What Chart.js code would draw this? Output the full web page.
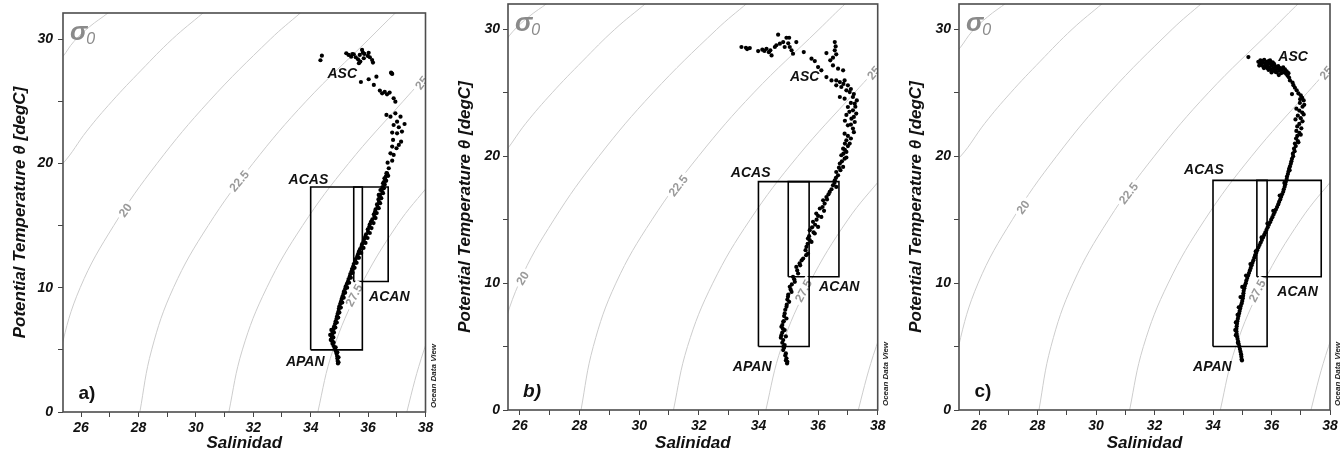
<!DOCTYPE html>
<html>
<head>
<meta charset="utf-8">
<script src="https://cdn.jsdelivr.net/npm/chart.js@4.4.1/dist/chart.umd.min.js"></script>
<style>
  html, body { margin: 0; padding: 0; background: #fff; }
  #wrap { position: relative; width: 1341px; height: 456px; overflow: hidden; }
  #wrap canvas { position: absolute; top: 0; }
</style>
</head>
<body>
<div id="wrap">
  <canvas id="panelA" width="445" height="456" style="left:0px"></canvas>
  <canvas id="panelB" width="445" height="456" style="left:445px"></canvas>
  <canvas id="panelC" width="451" height="456" style="left:890px"></canvas>
</div>
<script>
// axis labels
const salinityTicks = [26, 28, 30, 32, 34, 36, 38];
const tempTicks = [0, 10, 20, 30];

// sigma-0 isopycnals, [salinity, temperature]
const sigma15 = [[24.8, 27.0], [25.37, 28.6], [25.75, 29.8], [26.3, 31.0], [26.94, 32.1], [27.3, 32.8]];
const sigma17_5 = [[24.6, 18.5], [25.37, 20.0], [26.2, 22.6], [27.08, 25.0], [28.1, 27.5], [29.18, 30.0], [30.25, 32.1], [30.6, 32.8]];
const sigma20 = [[24.95, 0], [25.3, 5], [25.97, 10], [27.14, 15], [28.65, 20], [30.46, 25], [32.6, 30], [33.64, 32.1], [34.0, 32.8]];
const sigma22_5 = [[28.0, -1], [28.05, 0], [28.46, 5], [29.22, 10], [30.43, 15], [31.99, 20], [33.84, 25], [36.03, 30], [36.95, 32.1], [37.4, 33]];
const sigma25 = [[31.1, -1], [31.15, 0], [31.62, 5], [32.47, 10], [33.72, 15], [35.32, 20], [37.22, 25], [38.4, 28]];
const sigma27_5 = [[34.2, -1], [34.25, 0], [34.78, 5], [35.71, 10], [37.0, 15], [38.2, 18.5]];
const sigma30 = [[37.3, -1], [37.35, 0], [37.95, 5], [38.5, 8]];
const isopycnals = [sigma15, sigma17_5, sigma20, sigma22_5, sigma25, sigma27_5, sigma30];

// water mass boxes [Smin, Smax, Tmin, Tmax]
const boxesA = [[34.0, 35.8, 5.0, 18.1], [35.5, 36.7, 10.5, 18.1]];
const boxesB = [[34.0, 35.7, 5.0, 18.0], [35.0, 36.7, 10.5, 18.0]];
const boxesC = [[34.0, 35.85, 5.0, 18.1], [35.5, 37.7, 10.5, 18.1]];

// T-S profiles [salinity, temperature]
const tsA = [
  [34.39, 28.67], [34.34, 28.30], [35.24, 28.86], [35.32, 28.73], [35.41, 28.59], [35.50, 28.78], [35.57, 28.54],
  [35.65, 28.38], [35.71, 28.73], [35.79, 29.13], [35.82, 28.91], [35.73, 28.19], [35.68, 28.06], [35.87, 28.81],
  [35.99, 28.65], [36.06, 28.54], [36.14, 28.32], [36.17, 28.11], [35.85, 28.46], [36.02, 28.9], [35.45, 28.8],
  [36.80, 27.30], [36.84, 27.20], [36.82, 27.25],
  [35.75, 26.55], [36.02, 26.77], [36.29, 26.98], [36.20, 26.31], [36.41, 25.86], [36.49, 25.64], [36.66, 25.56],
  [36.75, 25.70], [36.89, 25.24], [36.95, 24.97], [36.58, 25.75],
  [36.64, 23.90], [36.78, 23.76], [36.95, 24.03], [37.13, 23.76], [37.01, 23.36], [36.89, 23.09], [37.27, 23.17],
  [37.07, 22.91], [37.18, 22.56], [37.01, 22.42], [36.84, 22.48], [36.87, 21.89], [37.15, 21.75], [37.07, 21.49],
  [36.99, 21.22], [36.84, 21.35], [36.78, 20.81], [36.89, 20.68], [36.68, 20.06], [36.84, 20.22], [36.72, 19.61],
  [36.64, 19.21], [36.57, 18.80], [36.52, 18.40], [36.43, 17.86], [36.37, 17.46],
  [36.66, 19.2], [36.62, 18.95], [36.6, 18.7], [36.55, 18.5], [36.58, 18.3], [36.5, 18.1], [36.47, 17.9], [36.5, 17.7],
  [36.42, 17.5], [36.4, 17.3], [36.36, 17.1], [36.38, 16.9], [36.31, 16.7], [36.33, 16.5], [36.26, 16.3], [36.24, 16.1],
  [36.2, 15.9], [36.22, 15.7], [36.15, 15.5], [36.1, 15.3], [36.06, 15.1], [36.04, 14.9], [35.99, 14.7], [36.0, 14.5],
  [35.93, 14.3], [35.9, 14.1], [35.86, 13.9], [35.84, 13.7], [35.79, 13.5], [35.77, 13.3], [35.72, 13.1], [35.68, 12.9],
  [35.65, 12.7], [35.62, 12.5], [35.57, 12.3], [35.55, 12.1], [35.5, 11.9], [35.48, 11.7], [35.44, 11.5], [35.42, 11.3],
  [35.38, 11.1], [35.36, 10.9], [35.32, 10.7], [35.3, 10.5], [35.26, 10.3], [35.22, 10.1], [35.2, 9.9], [35.16, 9.7],
  [35.14, 9.5], [35.11, 9.3], [35.08, 9.1], [35.06, 8.9], [35.03, 8.7], [35.0, 8.5], [34.98, 8.3], [34.97, 8.1],
  [34.94, 7.9], [34.92, 7.7], [34.9, 7.5], [34.87, 7.3], [34.85, 7.1], [34.82, 6.9], [34.8, 6.7], [34.77, 6.5],
  [34.75, 6.3], [34.74, 6.1], [34.73, 5.9], [34.75, 5.7], [34.76, 5.5], [34.8, 5.3], [34.84, 5.1], [34.87, 4.9],
  [34.9, 4.7], [34.92, 4.5], [34.93, 4.3], [34.94, 4.1], [34.95, 3.9],
  [36.7, 19.0], [36.63, 18.6], [36.55, 18.0], [36.52, 17.6], [36.46, 17.2], [36.42, 16.8], [36.37, 16.4], [36.3, 16.0],
  [36.26, 15.6], [36.19, 15.2], [36.12, 14.8], [36.06, 14.4], [35.98, 14.0], [35.91, 13.6], [35.84, 13.2], [35.76, 12.8],
  [35.68, 12.4], [35.6, 12.0], [35.53, 11.6], [35.46, 11.2], [35.4, 10.8], [35.34, 10.4], [35.27, 10.0], [35.2, 9.6],
  [35.15, 9.2], [35.1, 8.8], [35.05, 8.4], [35.0, 8.0], [34.96, 7.6], [34.91, 7.2], [34.86, 6.8], [34.81, 6.4],
  [34.79, 6.0], [34.8, 5.6], [34.87, 5.2], [34.93, 4.8], [34.97, 4.4], [34.97, 4.0], [34.68, 6.2], [34.7, 5.8], [34.72, 6.6]
];

const tsB = [
  [33.43, 28.61], [33.58, 28.55], [33.71, 28.53], [33.62, 28.45], [33.99, 28.29], [34.13, 28.4], [34.27, 28.47],
  [34.4, 28.35], [34.44, 27.95], [34.55, 28.61], [34.66, 29.58], [34.72, 28.87], [34.83, 29.0], [34.88, 28.61],
  [34.94, 29.34], [35.03, 29.34], [35.05, 28.61], [35.11, 28.35], [35.16, 28.08], [35.27, 29.0], [35.52, 28.21],
  [34.35, 28.2], [34.6, 28.75], [35.0, 28.9], [34.2, 28.3],
  [36.56, 29.0], [36.59, 28.66], [36.56, 28.35], [36.61, 28.03], [36.5, 27.77], [36.28, 28.13], [36.41, 27.56],
  [35.78, 27.69], [35.89, 27.5], [36.0, 27.03], [36.11, 26.77], [36.5, 27.16], [36.67, 26.9], [36.84, 26.77],
  [36.28, 26.24], [36.45, 25.98], [36.61, 25.98], [36.73, 25.85], [36.89, 25.98], [37.0, 25.59], [36.61, 25.59],
  [36.78, 25.46], [36.95, 25.2], [37.06, 25.06], [36.73, 24.67], [36.89, 24.54], [37.17, 24.67], [37.23, 24.14],
  [37.0, 23.88], [37.17, 23.62], [37.28, 23.36], [36.95, 23.26], [37.12, 22.96], [37.23, 22.7], [37.0, 22.44],
  [37.17, 22.18], [36.89, 21.78], [36.95, 21.26], [37.06, 21.0], [36.84, 20.6], [36.95, 20.34], [36.78, 20.08],
  [36.89, 19.81], [36.73, 19.42], [36.84, 19.16], [36.61, 18.76], [36.67, 18.5], [36.56, 18.1], [36.5, 17.71],
  [36.61, 17.58], [36.39, 17.19], [36.28, 16.79], [36.17, 16.53], [36.22, 16.27], [36.06, 15.88], [35.94, 15.48],
  [36.11, 15.22], [35.83, 14.83], [36.0, 14.43], [35.72, 14.17], [35.89, 13.91], [35.66, 13.51], [35.78, 13.25],
  [35.61, 12.86], [35.66, 12.33], [35.5, 11.94], [35.38, 11.55], [35.27, 11.28], [35.33, 10.76], [35.16, 10.5],
  [35.22, 10.1], [35.05, 9.71], [35.11, 9.31], [34.99, 8.92], [35.03, 8.53], [34.94, 8.13], [34.88, 7.61],
  [34.94, 7.21], [34.83, 6.95], [34.77, 6.56], [34.88, 6.3], [34.77, 5.9], [34.83, 5.51], [34.88, 5.12],
  [34.83, 4.72], [34.92, 4.46], [34.94, 4.07], [34.96, 3.67],
  [37.1, 25.3], [36.85, 25.7], [37.2, 24.9], [37.3, 24.4], [37.1, 24.2], [37.25, 23.9], [37.05, 23.5], [37.2, 23.1],
  [36.9, 22.8], [37.1, 22.5], [37.2, 21.9], [37.0, 21.6], [37.1, 21.4], [36.9, 21.0], [37.0, 20.8], [36.9, 20.5],
  [36.85, 20.2], [36.95, 19.9], [36.8, 19.6], [36.7, 19.1], [36.75, 18.9], [36.6, 18.3], [36.55, 17.9], [36.45, 17.4],
  [36.35, 17.0], [36.3, 16.6], [36.15, 16.0], [36.2, 15.7], [36.0, 15.3], [35.95, 15.0], [35.9, 14.6], [35.8, 14.4],
  [35.85, 14.0], [35.7, 13.7], [35.72, 13.4], [35.65, 13.1], [35.58, 12.6], [35.6, 12.2], [35.45, 11.8], [35.4, 11.4],
  [35.3, 11.0], [35.2, 10.3], [35.12, 9.9], [35.08, 9.5], [35.0, 9.1], [34.97, 8.7], [34.95, 8.3], [34.9, 7.9],
  [34.86, 7.4], [34.85, 7.0], [34.8, 6.7], [34.8, 6.1], [34.75, 5.7], [34.8, 5.3], [34.86, 4.9], [34.9, 4.3],
  [34.92, 3.9], [34.97, 3.8], [34.84, 5.0], [34.92, 5.8], [34.82, 6.4]
];

const tsC = [
  [35.21, 27.82],
  [35.55, 27.45], [35.6, 27.3], [35.62, 27.55], [35.66, 27.2], [35.7, 27.4], [35.72, 27.05], [35.75, 27.6],
  [35.78, 27.3], [35.8, 27.15], [35.83, 27.45], [35.85, 26.95], [35.88, 27.25], [35.9, 27.5], [35.92, 27.0],
  [35.95, 27.35], [35.97, 26.85], [36.0, 27.15], [36.02, 26.7], [36.04, 27.4], [36.06, 26.95], [36.1, 27.2],
  [36.12, 26.8], [36.15, 27.05], [36.18, 26.6], [36.2, 26.9], [36.23, 27.1], [36.26, 26.75], [36.3, 26.95],
  [36.33, 26.55], [36.36, 26.8], [36.4, 27.0], [36.43, 26.6], [36.46, 26.85], [36.5, 26.5], [36.52, 26.7],
  [36.55, 26.35], [36.58, 26.55], [36.6, 26.2], [35.68, 27.5], [35.74, 26.95], [35.9, 26.8], [36.0, 26.6],
  [36.08, 27.3], [35.95, 27.55], [36.25, 26.4], [35.58, 27.15], [35.82, 27.05], [36.14, 26.65],
  [36.63, 25.98], [36.72, 25.8], [36.75, 25.6], [36.8, 25.4], [36.86, 25.2], [36.92, 24.95], [37.0, 24.8],
  [37.05, 24.6], [37.1, 24.4], [36.97, 24.2], [37.12, 24.05], [37.06, 23.9], [36.85, 23.75], [36.95, 23.6],
  [37.05, 23.45], [37.1, 23.3], [36.9, 23.2], [37.0, 23.0], [36.82, 22.9], [37.06, 22.75], [36.95, 22.55],
  [36.88, 22.35], [37.02, 22.2], [36.85, 22.0], [36.95, 21.85], [36.88, 21.6], [36.84, 21.4], [36.9, 21.2],
  [36.8, 21.0], [36.83, 20.8], [36.77, 20.6], [36.79, 20.4], [36.73, 20.2], [36.74, 20.0], [36.7, 19.8],
  [36.68, 19.6], [36.66, 19.4], [36.63, 19.2], [36.6, 19.0], [36.58, 18.8], [36.56, 18.6], [36.53, 18.4],
  [36.52, 18.2], [36.49, 18.0], [36.47, 17.8], [36.45, 17.6], [36.42, 17.4], [36.4, 17.2], [36.36, 17.0],
  [36.33, 16.8], [36.3, 16.6], [36.26, 16.4], [36.23, 16.2], [36.19, 16.0], [36.15, 15.8], [36.11, 15.6],
  [36.07, 15.4], [36.03, 15.2], [35.99, 15.0], [35.95, 14.8], [35.91, 14.6], [35.87, 14.4], [35.83, 14.2],
  [35.79, 14.0], [35.75, 13.8], [35.71, 13.6], [35.67, 13.4], [35.63, 13.2], [35.59, 13.0], [35.55, 12.8],
  [35.51, 12.6], [35.48, 12.4], [35.44, 12.2], [35.41, 12.0], [35.38, 11.8], [35.35, 11.6], [35.32, 11.4],
  [35.29, 11.2], [35.26, 11.0], [35.23, 10.8], [35.2, 10.6], [35.17, 10.4], [35.14, 10.2], [35.12, 10.0],
  [35.09, 9.8], [35.07, 9.6], [35.05, 9.4], [35.04, 9.2], [35.03, 9.0], [35.02, 8.8], [35.0, 8.6], [34.98, 8.4],
  [34.95, 8.2], [34.93, 8.0], [34.91, 7.8], [34.89, 7.6], [34.87, 7.4], [34.85, 7.2], [34.83, 7.0], [34.82, 6.8],
  [34.81, 6.6], [34.8, 6.4], [34.8, 6.2], [34.81, 6.0], [34.82, 5.8], [34.84, 5.6], [34.86, 5.4], [34.88, 5.2],
  [34.9, 5.0], [34.92, 4.8], [34.94, 4.6], [34.96, 4.4], [34.97, 4.2], [34.98, 4.0], [34.99, 3.9],
  [36.7, 24.9], [36.98, 24.5], [37.0, 21.7], [36.92, 21.1], [36.62, 18.9], [36.44, 17.9], [36.28, 16.9],
  [36.06, 15.7], [35.86, 14.7], [35.66, 13.6], [35.46, 12.5], [35.28, 11.5], [35.13, 10.6], [35.0, 9.7],
  [34.94, 8.9], [34.88, 8.1], [34.84, 7.5], [34.78, 6.9], [34.76, 6.3], [34.78, 5.9], [34.85, 5.3]
];

const FONT = "'Liberation Sans', Arial, Helvetica, sans-serif";

const panels = [
  {
    id: 'panelA', ts: tsA, boxes: boxesA, xmin: 25.372, ymax: 32.1,
    padTop: 13, padRight: 19.5, yWidth: 63, xHeight: 44, yTitlePad: 9.8, yTickPad: 5,
    letter: 'a)', letterItalic: false,
    isoLabels: [['20', 27.53, 16.25, -53], ['22.5', 31.5, 18.6, -50], ['25', 37.86, 26.5, -52], ['27.5', 35.5, 9.4, -62]],
    massLabels: [['ASC', 35.1, 27.2], ['ACAS', 33.92, 18.66], ['ACAN', 36.74, 9.25], ['APAN', 33.81, 4.02]]
  },
  {
    id: 'panelB', ts: tsB, boxes: boxesB, xmin: 25.6, ymax: 32.0,
    padTop: 4, padRight: 12.3, yWidth: 63, xHeight: 46, yTitlePad: 9.8, yTickPad: 3,
    letter: 'b)', letterItalic: true,
    isoLabels: [['20', 26.08, 10.4, -58], ['22.5', 31.3, 17.7, -52], ['25', 37.86, 26.6, -50], ['27.5', 35.5, 9.4, -62]],
    massLabels: [['ASC', 35.55, 26.2], ['ACAS', 33.74, 18.66], ['ACAN', 36.71, 9.65], ['APAN', 33.79, 3.39]]
  },
  {
    id: 'panelC', ts: tsC, boxes: boxesC, xmin: 25.316, ymax: 32.0,
    padTop: 4, padRight: 11, yWidth: 69, xHeight: 46, yTitlePad: 16.5, yTickPad: 3,
    letter: 'c)', letterItalic: false,
    isoLabels: [['20', 27.5, 16.0, -53], ['22.5', 31.1, 17.1, -52], ['25', 37.86, 26.6, -50], ['27.5', 35.5, 9.4, -62]],
    massLabels: [['ASC', 36.74, 27.8], ['ACAS', 33.69, 18.9], ['ACAN', 36.89, 9.29], ['APAN', 33.98, 3.39]]
  }
];

function toXY(arr) {
  return arr.map(p => ({ x: p[0], y: p[1] }));
}

function makeDecor(cfg) {
  return {
    id: 'decor',
    beforeDatasetDraw(chart, args) {
      // contour labels go on top of the isopycnals, under boxes and points
      if (!chart.data.datasets[args.index].firstBox) return;
      const { ctx, chartArea: a, scales: { x, y } } = chart;
      ctx.save();
      ctx.beginPath();
      ctx.rect(a.left, a.top, a.right - a.left, a.bottom - a.top);
      ctx.clip();
      ctx.font = 'bold 12px ' + FONT;
      ctx.textAlign = 'center';
      ctx.textBaseline = 'middle';
      cfg.isoLabels.forEach(([txt, s, t, ang]) => {
        const px = x.getPixelForValue(s);
        const py = y.getPixelForValue(t);
        ctx.save();
        ctx.translate(px, py);
        ctx.rotate(ang * Math.PI / 180);
        const w = ctx.measureText(txt).width;
        ctx.fillStyle = '#fff';
        ctx.fillRect(-w / 2 - 3, -5, w + 6, 10);
        ctx.fillStyle = '#9a9a9a';
        ctx.fillText(txt, 0, 1);
        ctx.restore();
      });
      ctx.restore();
    },
    afterDatasetsDraw(chart) {
      const { ctx, chartArea: a, scales: { x, y } } = chart;
      ctx.save();
      // frame
      ctx.strokeStyle = '#4d4d4d';
      ctx.lineWidth = 1.6;
      ctx.strokeRect(a.left, a.top, a.right - a.left, a.bottom - a.top);

      // sigma-0 tag
      ctx.fillStyle = '#8a8a8a';
      ctx.textAlign = 'left';
      ctx.textBaseline = 'alphabetic';
      ctx.font = 'bold italic 26px ' + FONT;
      ctx.fillText('σ', a.left + 7, a.top + 27);
      const sw = ctx.measureText('σ').width;
      ctx.font = 'italic 16px ' + FONT;
      ctx.fillText('0', a.left + 6 + sw, a.top + 31);

      // panel letter
      ctx.fillStyle = '#111';
      ctx.textAlign = 'center';
      ctx.textBaseline = 'middle';
      ctx.font = (cfg.letterItalic ? 'italic ' : '') + 'bold 19px ' + FONT;
      ctx.fillText(cfg.letter, a.left + 24, a.bottom - 18);

      // water masses
      ctx.font = 'bold italic 14px ' + FONT;
      cfg.massLabels.forEach(([txt, s, t]) => {
        ctx.fillText(txt, x.getPixelForValue(s), y.getPixelForValue(t));
      });

      // ODV credit
      ctx.translate(a.right + 8, a.bottom - 36);
      ctx.rotate(-Math.PI / 2);
      ctx.font = 'bold italic 8px ' + FONT;
      ctx.fillStyle = '#222';
      ctx.fillText('Ocean Data View', 0, 0);
      ctx.restore();
    }
  };
}

panels.forEach(cfg => {
  const datasets = [{
    type: 'scatter',
    data: toXY(cfg.ts),
    pointRadius: 2.1,
    pointBackgroundColor: '#000',
    pointBorderWidth: 0,
    order: 0
  }];
  cfg.boxes.forEach((b, i) => {
    datasets.push({
      type: 'line',
      firstBox: i === 0,
      data: [{ x: b[0], y: b[2] }, { x: b[1], y: b[2] }, { x: b[1], y: b[3] }, { x: b[0], y: b[3] }, { x: b[0], y: b[2] }],
      borderColor: '#000',
      borderWidth: 1.6,
      pointRadius: 0,
      tension: 0,
      fill: false,
      order: 1
    });
  });
  isopycnals.forEach(c => {
    datasets.push({
      type: 'line',
      data: toXY(c),
      borderColor: '#cdcdcd',
      borderWidth: 1,
      pointRadius: 0,
      tension: 0.4,
      fill: false,
      order: 2
    });
  });

  const tickFont = { family: FONT, size: 14, weight: 'bold', style: 'italic' };
  const titleFont = { family: FONT, size: 17, weight: 'bold', style: 'italic' };

  new Chart(document.getElementById(cfg.id), {
    type: 'scatter',
    data: { datasets },
    options: {
      responsive: false,
      animation: false,
      layout: { padding: { left: 0, right: cfg.padRight, top: cfg.padTop, bottom: 0 } },
      plugins: { legend: { display: false }, tooltip: { enabled: false } },
      scales: {
        x: {
          type: 'linear',
          min: cfg.xmin,
          max: 38,
          afterFit: s => { s.height = cfg.xHeight; s.paddingLeft = 0; s.paddingRight = 0; },
          border: { display: false },
          grid: { drawOnChartArea: false, drawTicks: true, tickLength: 5, color: '#444' },
          ticks: {
            stepSize: 1, includeBounds: false, autoSkip: false, maxRotation: 0, padding: 3,
            color: '#111', font: tickFont,
            callback: v => salinityTicks.includes(v) ? String(v) : ''
          },
          title: { display: true, text: 'Salinidad', color: '#111', font: titleFont, padding: { top: 0, bottom: 2 } }
        },
        y: {
          type: 'linear',
          min: 0,
          max: cfg.ymax,
          afterFit: s => { s.width = cfg.yWidth; s.paddingTop = 0; s.paddingBottom = 0; },
          border: { display: false },
          grid: { drawOnChartArea: false, drawTicks: true, tickLength: 5, color: '#444' },
          ticks: {
            stepSize: 5, includeBounds: false, autoSkip: false, padding: cfg.yTickPad,
            color: '#111', font: tickFont,
            callback: v => tempTicks.includes(v) ? String(v) : ''
          },
          title: {
            display: true, text: 'Potential Temperature θ [degC]', color: '#111', font: titleFont,
            padding: { top: cfg.yTitlePad, bottom: 0 }
          }
        }
      }
    },
    plugins: [makeDecor(cfg)]
  });
});
</script>
</body>
</html>
